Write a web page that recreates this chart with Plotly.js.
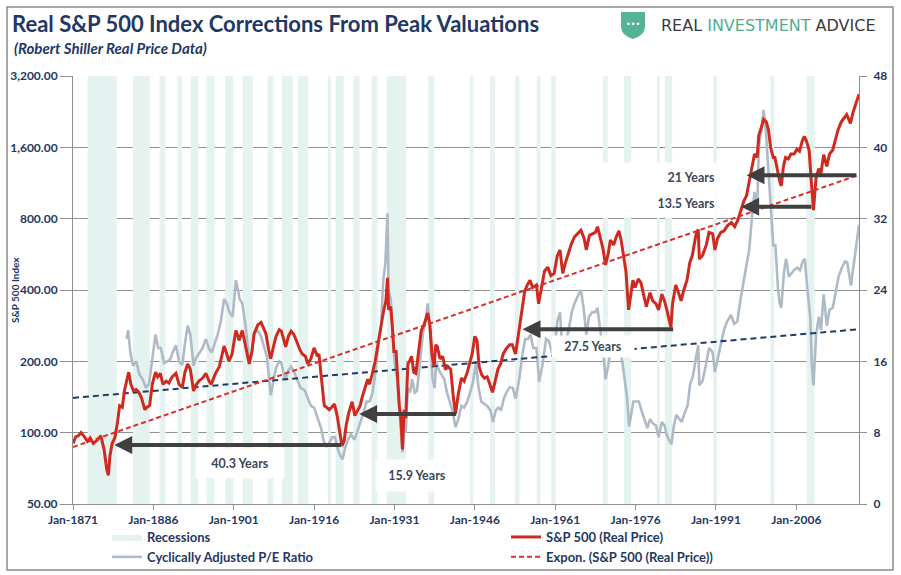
<!DOCTYPE html>
<html><head><meta charset="utf-8">
<script src="https://cdn.plot.ly/plotly-3.0.1.min.js"></script>
<style>body{margin:0;background:#fff}#chart{width:901px;height:575px}</style>
</head><body><div id="chart"></div>
<script>
// ---------- DATA ----------
const recessionStart = ['1873-10','1882-03','1887-03','1890-07','1893-01','1895-12','1899-06','1902-09','1907-05','1910-01','1913-01','1918-08','1920-01','1923-05','1926-10','1929-08','1937-05','1945-02','1948-11','1953-07','1957-08','1960-04','1969-12','1973-11','1980-01','1981-07','1990-07','2001-03','2007-12'];
const recessionEnd   = ['1879-03','1885-05','1888-04','1891-05','1894-06','1897-06','1900-12','1904-08','1908-06','1912-01','1914-12','1919-03','1921-07','1924-07','1927-11','1933-03','1938-06','1945-10','1949-10','1954-05','1958-04','1961-02','1970-11','1975-03','1980-07','1982-11','1991-03','2001-11','2009-06'];

const spYears = [1871.0,1871.5,1872.0,1872.5,1873.0,1873.7,1874.2,1874.8,1875.5,1876.2,1876.8,1877.3,1877.6,1877.9,1878.3,1878.8,1879.3,1879.7,1880.2,1880.6,1881.0,1881.4,1881.8,1882.3,1882.8,1883.3,1883.8,1884.4,1884.8,1885.3,1885.8,1886.4,1886.8,1887.3,1887.8,1888.4,1888.9,1889.5,1890.2,1890.8,1891.4,1891.9,1892.4,1892.9,1893.5,1893.9,1894.5,1895.2,1895.8,1896.4,1896.8,1897.6,1898.3,1898.8,1899.2,1899.7,1900.1,1900.7,1901.4,1901.8,1902.0,1902.6,1903.2,1903.9,1904.4,1904.8,1905.5,1906.1,1906.6,1907.0,1907.5,1907.9,1908.5,1908.9,1909.5,1909.9,1910.7,1911.2,1911.7,1912.2,1912.6,1913.3,1913.8,1914.4,1914.8,1915.4,1916.0,1916.6,1916.9,1917.3,1917.7,1917.9,1918.3,1918.8,1919.3,1919.8,1920.3,1920.8,1921.2,1921.6,1922.0,1922.5,1923.1,1923.6,1924.0,1924.6,1925.0,1925.5,1926.0,1926.3,1926.8,1927.4,1927.9,1928.4,1928.9,1929.4,1929.7,1929.9,1930.3,1930.6,1930.9,1931.3,1931.7,1931.9,1932.2,1932.5,1932.8,1933.1,1933.5,1933.8,1934.2,1934.6,1935.0,1935.5,1936.0,1936.5,1937.2,1937.6,1938.0,1938.4,1938.7,1939.0,1939.5,1940.0,1940.5,1941.0,1941.5,1942.0,1942.4,1942.9,1943.5,1944.0,1944.6,1945.0,1945.5,1946.0,1946.4,1946.8,1947.3,1947.8,1948.3,1948.8,1949.3,1949.8,1950.3,1950.8,1951.3,1951.8,1952.5,1953.0,1953.6,1954.3,1954.8,1955.3,1955.8,1956.3,1956.8,1957.5,1957.9,1958.5,1959.0,1959.6,1960.2,1960.8,1961.4,1961.9,1962.4,1962.9,1963.5,1964.0,1964.6,1965.2,1965.8,1966.4,1966.8,1967.4,1967.9,1968.5,1968.9,1969.4,1969.9,1970.4,1970.9,1971.3,1971.9,1972.4,1972.9,1973.3,1973.8,1974.2,1974.7,1975.0,1975.5,1975.9,1976.5,1977.0,1977.6,1978.0,1978.7,1979.2,1979.8,1980.3,1980.9,1981.4,1981.9,1982.3,1982.6,1982.9,1983.5,1984.0,1984.5,1985.0,1985.6,1986.1,1986.6,1987.3,1987.7,1987.9,1988.5,1989.2,1989.7,1990.4,1990.8,1991.3,1991.9,1992.5,1993.2,1993.9,1994.5,1995.1,1995.7,1996.2,1996.7,1997.2,1997.7,1998.2,1998.7,1999.0,1999.5,1999.9,2000.4,2000.8,2001.2,2001.7,2002.0,2002.5,2002.9,2003.2,2003.6,2004.0,2004.5,2005.0,2005.6,2006.1,2006.6,2007.1,2007.5,2007.9,2008.4,2008.8,2009.2,2009.7,2010.2,2010.6,2011.1,2011.7,2012.2,2012.8,2013.3,2013.8,2014.4,2014.9,2015.4,2015.8,2016.1,2016.6,2017.0,2017.4,2017.7];
const spValues = [90,96,97,100,97,92,95,90,93,97,85,70,66,80,90,95,110,130,128,150,165,180,160,150,152,148,140,125,128,130,160,180,172,178,160,165,162,172,178,160,155,180,195,185,150,158,165,170,178,165,160,178,190,210,232,215,200,215,270,255,245,270,235,195,220,262,285,292,275,262,225,205,235,255,272,268,230,255,268,260,248,225,215,210,195,205,228,210,215,180,150,130,128,125,128,132,118,100,88,92,108,122,135,118,122,130,142,155,168,160,175,200,235,265,320,360,450,330,340,280,220,220,160,130,115,85,125,115,195,200,210,180,178,220,270,285,320,285,215,190,235,230,205,210,185,190,185,140,120,145,170,165,180,195,215,255,245,190,175,170,172,160,148,165,185,195,215,225,235,235,215,275,330,395,420,440,410,420,350,410,480,500,460,470,560,590,470,520,580,625,670,690,715,660,590,680,690,700,740,660,600,510,570,650,620,670,710,650,560,480,330,370,440,410,445,430,375,340,390,360,350,330,385,360,325,300,278,350,420,390,360,400,440,520,560,690,720,540,560,620,700,690,590,660,700,710,750,770,740,790,880,950,1000,1150,1350,1500,1450,1800,1950,2100,2050,1900,1600,1450,1450,1250,1150,1100,1330,1450,1430,1500,1500,1570,1540,1700,1780,1700,1550,1150,870,1200,1300,1240,1490,1330,1500,1560,1750,1900,2050,2130,2200,2100,2020,2250,2400,2550,2680];

const capeYears = [1881.0,1881.3,1881.7,1882.2,1882.8,1883.4,1884.0,1884.6,1885.2,1885.8,1886.4,1886.9,1887.4,1888.0,1888.6,1889.1,1889.6,1890.2,1890.8,1891.4,1891.9,1892.4,1892.9,1893.5,1893.9,1894.5,1895.2,1895.8,1896.4,1896.9,1897.5,1898.0,1898.6,1899.2,1899.7,1900.2,1900.8,1901.4,1901.8,1902.1,1902.6,1903.2,1903.9,1904.4,1904.8,1905.4,1906.1,1906.6,1907.2,1907.9,1908.4,1908.9,1909.5,1909.9,1910.6,1911.2,1911.7,1912.3,1912.8,1913.5,1914.2,1914.8,1915.4,1916.0,1916.6,1917.3,1917.8,1918.3,1918.8,1919.4,1919.9,1920.4,1920.9,1921.3,1921.8,1922.3,1922.9,1923.5,1924.0,1924.6,1925.2,1925.8,1926.4,1926.9,1927.5,1928.0,1928.5,1928.9,1929.3,1929.7,1929.9,1930.3,1930.7,1931.0,1931.5,1931.9,1932.2,1932.5,1932.8,1933.1,1933.5,1933.9,1934.3,1934.8,1935.2,1935.7,1936.3,1936.8,1937.2,1937.6,1938.1,1938.5,1938.8,1939.3,1939.8,1940.3,1940.8,1941.3,1941.8,1942.4,1942.9,1943.5,1944.0,1944.6,1945.1,1945.6,1946.2,1946.7,1947.2,1947.8,1948.3,1948.9,1949.4,1949.9,1950.4,1950.9,1951.4,1951.9,1952.5,1953.1,1953.6,1954.3,1954.8,1955.4,1955.9,1956.4,1956.9,1957.5,1958.0,1958.6,1959.3,1959.8,1960.4,1960.9,1961.4,1961.9,1962.4,1962.9,1963.5,1964.1,1964.6,1965.2,1965.8,1966.3,1966.8,1967.3,1967.9,1968.5,1968.9,1969.4,1969.9,1970.4,1970.9,1971.4,1971.9,1972.5,1972.9,1973.4,1973.9,1974.4,1974.8,1975.2,1975.6,1976.1,1976.6,1977.1,1977.6,1978.2,1978.7,1979.3,1979.8,1980.3,1980.9,1981.4,1981.9,1982.4,1982.7,1983.1,1983.6,1984.2,1984.6,1985.2,1985.7,1986.2,1986.7,1987.3,1987.7,1987.9,1988.5,1989.1,1989.7,1990.4,1990.8,1991.4,1991.9,1992.5,1993.1,1993.8,1994.4,1995.0,1995.6,1996.2,1996.7,1997.2,1997.7,1998.2,1998.7,1999.0,1999.5,1999.9,2000.3,2000.8,2001.3,2001.7,2002.1,2002.6,2002.9,2003.2,2003.7,2004.1,2004.6,2005.2,2005.7,2006.2,2006.7,2007.2,2007.6,2008.0,2008.6,2008.9,2009.2,2009.7,2010.2,2010.6,2011.1,2011.7,2012.2,2012.8,2013.3,2013.9,2014.5,2015.1,2015.5,2015.9,2016.2,2016.7,2017.2,2017.5,2017.7];
const capeValues = [18.5,19.5,17,15.5,16,14.5,14,13,13.5,16.5,19,17.5,17.5,15.8,16,16.2,17,17.8,16,15.6,18,20,19,15.5,16.3,16.8,17.5,18.5,17.4,17,18,19,20.5,23,22.5,21.5,21,25.1,24,23,22.5,20,16.2,17,19,19.5,18.8,17.8,16.5,12.2,14,15.3,16,15.8,13.9,15,15.4,14.8,14,13,12.8,12,11,10.8,9.8,8.5,7,6.5,6.8,7.5,7.5,6.2,5.4,5,6.3,7.2,7.8,7.2,8,9,10.2,11.5,11.5,12.5,15,18,20,25,27,32.6,24,23,19.5,16,14,11,8.5,5.8,8.5,8,13,12.5,14,12.5,12.7,15.5,19,20.5,22.5,20,14,13,16,15,14.5,14,12.5,11.5,10.5,8.6,9.5,11,10.8,11.5,12.5,13.5,15.8,13,11.5,11.2,11,10.5,9.2,10.5,10.8,10.5,11.8,12.5,13.1,13,11.8,14,16.5,18.5,18.5,19,17.5,17.5,13.7,15.5,18.5,18.3,17,17.3,20.5,21.5,16.5,18,19.5,21.5,22.5,23.3,24,22,19,21,21.5,21.5,22,19.5,17.5,14,15.5,17.5,16.8,18,18.7,16.5,14,12,8.7,10,11.5,11.5,11.5,10.5,9.5,8.5,9.5,9,8.8,7.5,9.2,8.8,7.6,7,6.7,8.6,10,9.5,9.2,10.3,11,13.5,14.3,16.5,17.8,13.3,13.8,15.5,17.5,17,14.8,16.5,18,19.5,20.5,21.2,20.2,20.5,23,25,26.5,28.5,32,35,33,40,42,44.2,42,37,32,29,29,24,22.5,22,26,27.5,25.5,26,26.3,26.5,26.2,27.2,27.5,24.5,21,15.5,13.3,19,21,19.5,23.5,20,21.8,22,23.5,25.5,26.5,27.2,27.1,25.5,24.5,26.8,29,30.3,31.3];

// trend lines (end points)
const spTrendYears = [1871.0, 2017.7];
const spTrendValues = [87, 1225];
const capeTrendYears = [1871.0, 2017.7];
const capeTrendValues = [11.9, 19.6];

// correction arrows: from (later date) back to (earlier date) at a price level
const arrowFrom  = [1921.3, 1942.8, 1983.3, 2017.5, 2009.1];
const arrowTo    = [1878.7, 1924.4, 1954.9, 1996.7, 1995.7];
const arrowLevel = [88.7, 119.8, 273, 1221, 898];
const arrowLabels = ['40.3 Years','15.9 Years','27.5 Years','21 Years','13.5 Years'];

const leftTicks = [50,100,200,400,800,1600,3200];
const rightTicks = [0,8,16,24,32,40,48];

// ---------- helpers ----------
function yd(y){
  const yr = Math.floor(y);
  const a = Date.UTC(yr,0,1), b = Date.UTC(yr+1,0,1);
  return new Date(a + (y-yr)*(b-a)).toISOString().slice(0,10);
}
const NAVY = '#1f3864';
const GRID = '#8f8f8f';
const FONT = 'Lato, "Open Sans", sans-serif';

// recession polygons
const recX = [], recY = [];
recessionStart.forEach((s,i)=>{
  const e = recessionEnd[i];
  recX.push(s+'-01', s+'-01', e+'-01', e+'-01', null);
  recY.push(0,1,1,0,null);
});

const traces = [
  {x:recX, y:recY, type:'scatter', mode:'lines', fill:'toself', fillcolor:'rgb(228,243,239)',
   line:{width:0, color:'rgb(228,243,239)'}, name:'Recessions', yaxis:'y', legend:'legend', hoverinfo:'skip'},
  {x:capeYears.map(yd), y:capeValues, type:'scatter', mode:'lines', name:'Cyclically Adjusted P/E Ratio',
   line:{color:'#afbac7', width:2.6}, yaxis:'y2', legend:'legend'},
  {x:capeTrendYears.map(yd), y:capeTrendValues, type:'scatter', mode:'lines', showlegend:false,
   line:{color:'#1f3b66', width:2, dash:'6px,4px'}, yaxis:'y2', name:'CAPE trend'},
  {x:spYears.map(yd), y:spValues, type:'scatter', mode:'lines', name:'S&P 500 (Real Price)',
   line:{color:'#cf2a1f', width:3}, yaxis:'y3', legend:'legend2'},
  {x:spTrendYears.map(yd), y:spTrendValues, type:'scatter', mode:'lines', name:'Expon. (S&P 500 (Real Price))',
   line:{color:'#d8302a', width:2, dash:'5px,3px'}, yaxis:'y3', legend:'legend2'}
];

// paper coordinate helpers for decoration placement
const L=73, R=859, T=76, B=504;
const px = v => (v-L)/(R-L);
const py = v => (B-v)/(B-T);

const annotations = [];
arrowLabels.forEach((t,i)=>{
  annotations.push({
    x: yd(arrowTo[i]), y: Math.log10(arrowLevel[i]), xref:'x', yref:'y3',
    ax: yd(arrowFrom[i]), ay: Math.log10(arrowLevel[i]), axref:'x', ayref:'y3',
    text:'', showarrow:true, arrowhead:2, arrowsize:0.9, arrowwidth:4, arrowcolor:'#404040',
    standoff:0, startstandoff:0
  });
});
const labelFont = {family:FONT, size:12.5, color:'#3d4757', weight:'bold'};
const P = {xref:'paper', yref:'paper', showarrow:false, xanchor:'center', yanchor:'middle'};
annotations.push(
  Object.assign({}, P, {text:arrowLabels[0], x:px(240), y:py(463), bgcolor:'#ffffff', width:86, height:27, font:labelFont}),
  Object.assign({}, P, {text:arrowLabels[1], x:px(417), y:py(475), bgcolor:'#ffffff', width:80, height:29, font:labelFont}),
  Object.assign({}, P, {text:arrowLabels[2], x:px(593), y:py(346), bgcolor:'#ffffff', width:80, height:19, font:labelFont}),
  Object.assign({}, P, {text:arrowLabels[3], x:px(717), y:py(177), xanchor:'right', align:'right', bgcolor:'#ffffff', width:117, height:27, font:labelFont}),
  Object.assign({}, P, {text:arrowLabels[4], x:px(717), y:py(203), xanchor:'right', align:'right', bgcolor:'#ffffff', width:117, height:26, font:labelFont}),
  Object.assign({}, P, {text:'S&P 500 Index', x:px(15), y:py(290), textangle:-90,
   font:{family:FONT, size:10, color:NAVY, weight:'bold'}}),
  Object.assign({}, P, {text:'(Robert Shiller Real Price Data)', x:px(12), y:py(48), xanchor:'left',
   font:{family:FONT, size:15, color:NAVY, weight:'bold', style:'italic'}}),
  Object.assign({}, P, {text:'REAL <span style="color:#4fae92">INVESTMENT</span> ADVICE', x:px(659), y:py(25), xanchor:'left',
   font:{family:'"DejaVu Sans", sans-serif', size:16, color:'#3a3a3a'}}),
  Object.assign({}, P, {text:'•••', x:px(633), y:py(24), font:{family:'"DejaVu Sans", sans-serif', size:8, color:'#ffffff'}})
);

const shapes = [
  {type:'rect', xref:'paper', yref:'paper', x0:px(7), x1:px(893), y0:py(570), y1:py(7),
   line:{color:'#8c8c8c', width:1.5}, fillcolor:'rgba(0,0,0,0)', layer:'above'},
  {type:'path', xref:'paper', yref:'paper', fillcolor:'#55b398', line:{width:0},
   path:`M${px(621)},${py(12)} L${px(645)},${py(12)} L${px(645)},${py(27)} Q${px(645)},${py(35)} ${px(633)},${py(39)} Q${px(621)},${py(35)} ${px(621)},${py(27)} Z`}
];

const layout = {
  width:901, height:575,
  margin:{l:L, r:901-R, t:T, b:575-B, autoexpand:false},
  paper_bgcolor:'#ffffff', plot_bgcolor:'#ffffff',
  showlegend:true,
  title:{text:'Real S&P 500 Index Corrections From Peak Valuations', x:12/901, xanchor:'left', y:1-24/575, yanchor:'middle',
         font:{family:FONT, size:22, color:NAVY, weight:'bold'}},
  xaxis:{type:'date', range:[yd(1871.0), yd(2017.7)], tick0:'1871-01-01', dtick:'M180', tickformat:'%b-%Y',
         showgrid:false, showline:true, linecolor:GRID, linewidth:1, ticks:'outside', ticklen:5, tickcolor:GRID,
         tickfont:{family:FONT, size:12, color:NAVY, weight:'bold'}, zeroline:false},
  yaxis:{range:[0,1], visible:false, fixedrange:true},
  yaxis2:{overlaying:'y', side:'right', range:[0,48], tickvals:rightTicks, showgrid:false, zeroline:false,
          showline:true, linecolor:GRID, linewidth:1, ticks:'outside', ticklen:7, tickcolor:GRID, ticklabelstandoff:4,
          tickfont:{family:FONT, size:12, color:NAVY, weight:'bold'}},
  yaxis3:{overlaying:'y', side:'left', type:'log', range:[Math.log10(50), Math.log10(3200)], tickvals:leftTicks,
          tickformat:',.2f', showgrid:true, gridcolor:GRID, gridwidth:1, zeroline:false,
          showline:true, linecolor:GRID, linewidth:1, ticks:'outside', ticklen:12, tickcolor:GRID,
          tickfont:{family:FONT, size:12, color:NAVY, weight:'bold'}},
  legend:{orientation:'v', x:px(107), xanchor:'left', y:py(522), yanchor:'top', bgcolor:'rgba(0,0,0,0)',
          font:{family:FONT, size:13, color:NAVY, weight:'bold'}, tracegroupgap:0},
  legend2:{orientation:'v', x:px(506), xanchor:'left', y:py(522), yanchor:'top', bgcolor:'rgba(0,0,0,0)',
          font:{family:FONT, size:13, color:NAVY, weight:'bold'}, tracegroupgap:0},
  annotations, shapes
};

Plotly.newPlot('chart', traces, layout, {staticPlot:true, displayModeBar:false});
</script>
</body></html>
